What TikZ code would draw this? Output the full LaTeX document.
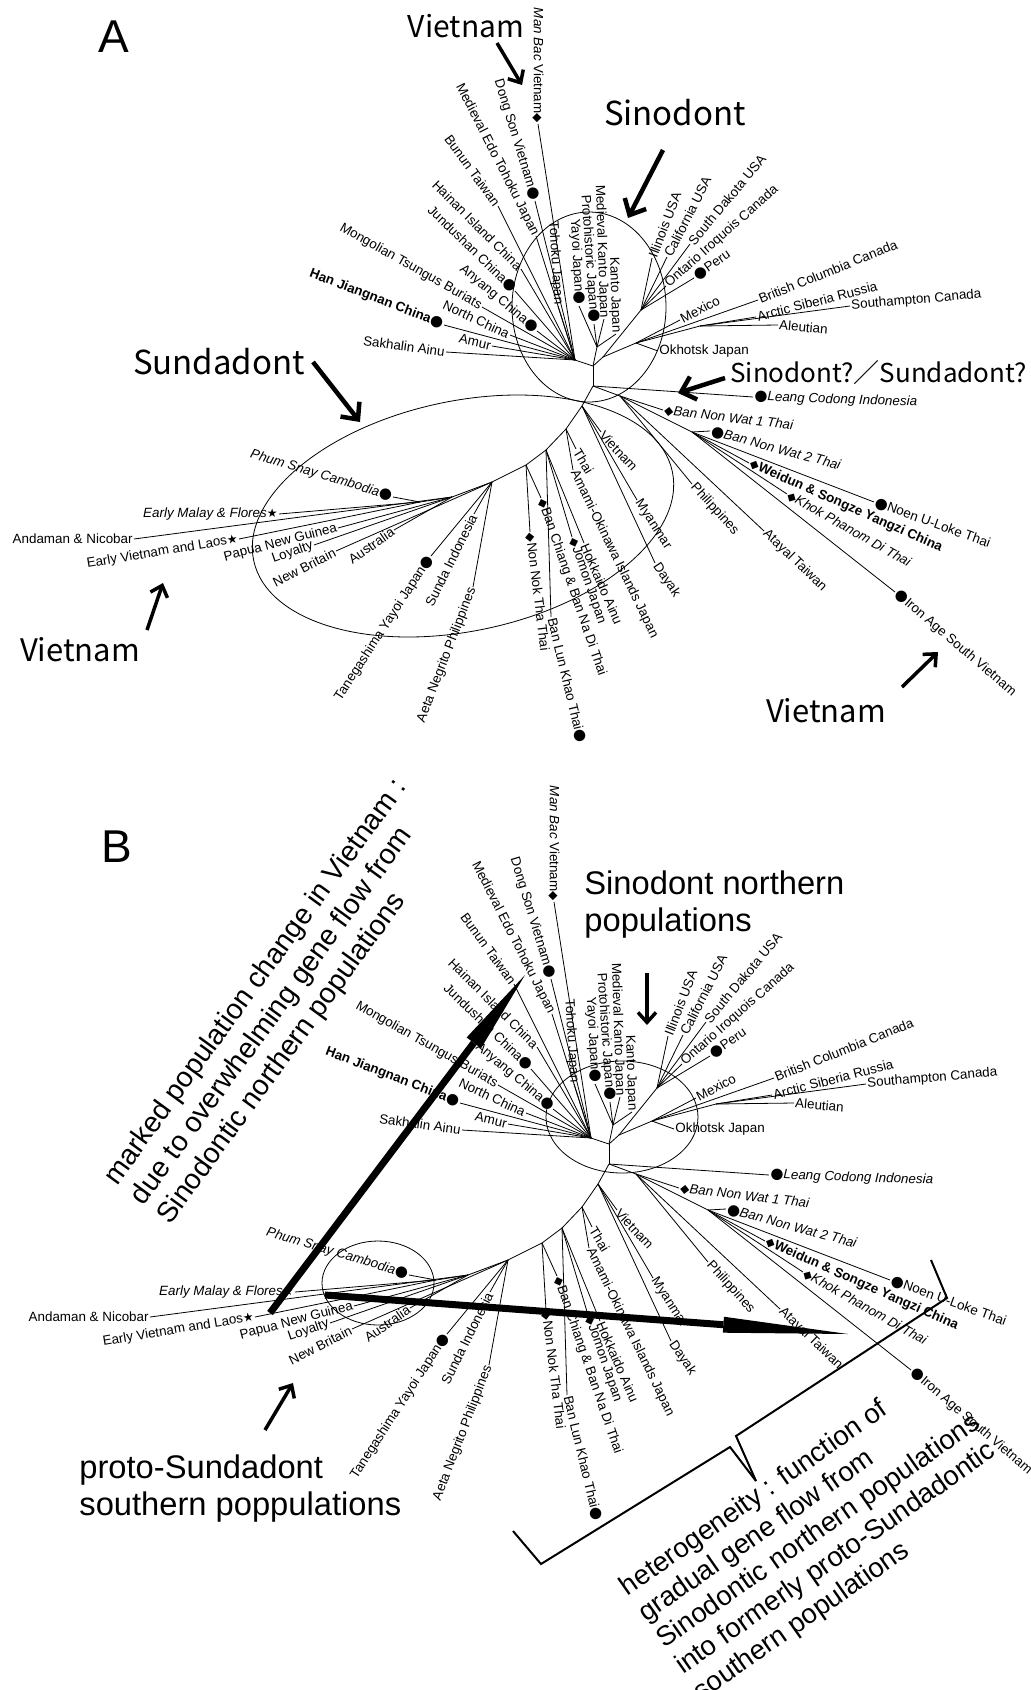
\documentclass[tikz,border=0pt]{standalone}
\usepackage{fontspec}
\setmainfont{Liberation Sans}
\newfontfamily\symfont{DejaVu Sans}
\newfontfamily\gothic{Noto Sans CJK JP}
\usetikzlibrary{arrows.meta}

% tip markers
\newcommand{\mkc}{{\symfont\fontsize{15}{15}\selectfont ●}}
\newcommand{\mkd}{{\symfont\fontsize{12}{12}\selectfont ◆}}
\newcommand{\mks}{{\symfont\fontsize{12}{12}\selectfont ★}}

% the tree, drawn once for each panel
\newcommand{\phylotree}{%
  \coordinate (r) at (593,386);
  \coordinate (n1) at (593,366);
  \coordinate (nl) at (575,360);
  \coordinate (nj) at (597,347);
  \coordinate (nam) at (603,357);
  \coordinate (na) at (641,310);
  \coordinate (nb) at (636,343);
  \coordinate (nc) at (700,326);
  \coordinate (t1) at (620,396);
  \coordinate (t2) at (692,432);
  \coordinate (v) at (582,406);
  \coordinate (p2) at (566,429);
  \coordinate (p3) at (546,450);
  \coordinate (p4) at (526,465);
  \coordinate (sh) at (492,482);
  \coordinate (w) at (452,497);
  \coordinate (w2) at (420,502);
  % northern tips
  \node[tip,anchor=east,rotate=-90] (manbac) at (538,124) {\textit{Man Bac} Vietnam\mkd};
  \node[tip,anchor=east,rotate=-73] (dongson) at (535,201) {Dong Son Vietnam\mkc};
  \node[tip,anchor=east,rotate=-63] (mededo) at (536,236) {Medieval Edo Tohoku Japan};
  \node[tip,anchor=east,rotate=-54] (bunun) at (498,206) {Bunun Taiwan};
  \node[tip,anchor=east,rotate=-45] (hainan) at (521,269) {Hainan Island China};
  \node[tip,anchor=east,rotate=-44] (jundu) at (515,291) {Jundushan China\mkc};
  \node[tip,anchor=east,rotate=-29.5] (mongol) at (482,307) {Mongolian Tsungus Buriats};
  \node[tip,anchor=east,rotate=-40] (anyang) at (537,331) {Anyang China\mkc};
  \node[tip,anchor=east,rotate=-21] (han) at (444,325) {\textbf{Han Jiangnan China}\mkc};
  \node[tip,anchor=east,rotate=-25] (north) at (510,335) {North China};
  \node[tip,anchor=east,rotate=-13] (amur) at (492,346) {Amur};
  \node[tip,anchor=east,rotate=-8] (sakh) at (446,352) {Sakhalin Ainu};
  \node[tip,anchor=east,rotate=-86.5] (tohoku) at (558,306) {Tohoku Japan};
  \node[tip,anchor=east,rotate=-87] (yayoi) at (579,306) {Yayoi Japan\mkc};
  \node[tip,anchor=east,rotate=-86] (proto) at (594,324) {Protohistoric Japan\mkc};
  \node[tip,anchor=east,rotate=-88] (medkanto) at (604,319) {Medieval Kanto Japan};
  \node[tip,anchor=east,rotate=-88] (kanto) at (616,334) {Kanto Japan};
  \node[tip,anchor=west,rotate=69] (illinois) at (652,258) {Illinois USA};
  \node[tip,anchor=west,rotate=63] (calif) at (667,257) {California USA};
  \node[tip,anchor=west,rotate=50] (sdakota) at (690,244) {South Dakota USA};
  \node[tip,anchor=west,rotate=41.5] (ontario) at (666,286) {Ontario Iroquois Canada};
  \node[tip,anchor=west,rotate=35] (peru) at (694,278) {\mkc Peru};
  \node[tip,anchor=west,rotate=28] (mexico) at (680,320) {Mexico};
  \node[tip,anchor=west,rotate=22] (bcol) at (758,300) {British Columbia Canada};
  \node[tip,anchor=west,rotate=14.5] (arctic) at (756,317) {Arctic Siberia Russia};
  \node[tip,anchor=west,rotate=5] (southam) at (850,306) {Southampton Canada};
  \node[tip,anchor=west,rotate=-5] (aleut) at (778,325) {Aleutian};
  \node[tip,anchor=west] (okhotsk) at (658,351) {Okhotsk Japan};
  % southern tips
  \node[tip,anchor=west,rotate=-2] (leang) at (753,397) {\mkc\textit{Leang Codong Indonesia}};
  \node[tip,anchor=west,rotate=-7] (bnw1) at (663,410) {\mkd\textit{Ban Non Wat 1 Thai}};
  \node[tip,anchor=west,rotate=-15] (bnw2) at (710,431) {\mkc\textit{Ban Non Wat 2 Thai}};
  \node[tip,anchor=west,rotate=-24] (weidun) at (749,463) {\mkd\textbf{Weidun \& Songze Yangzi China}};
  \node[tip,anchor=west,rotate=-20] (noen) at (874,502) {\mkc Noen U-Loke Thai};
  \node[tip,anchor=west,rotate=-29.5] (khok) at (787,494) {\mkd\textit{Khok Phanom Di Thai}};
  \node[tip,anchor=west,rotate=-40.5] (iron) at (895,592) {\mkc Iron Age South Vietnam};
  \node[tip,anchor=west,rotate=-48] (phil) at (692,484) {Philippines};
  \node[tip,anchor=west,rotate=-44] (atayal) at (764,531) {Atayal Taiwan};
  \node[tip,anchor=west,rotate=-57] (myanmar) at (637,500) {Myanmar};
  \node[tip,anchor=west,rotate=-56] (dayak) at (655,563) {Dayak};
  \node[tip,anchor=west,rotate=-47] (vietsm) at (601,432) {Vietnam};
  \node[tip,anchor=west,rotate=-59] (thai) at (576,449) {Thai};
  \node[tip,anchor=west,rotate=-64] (amami) at (573,470) {Amami-Okinawa Islands Japan};
  \node[tip,anchor=west,rotate=-66.5] (hokk) at (584,543) {Hokkaido Ainu};
  \node[tip,anchor=west,rotate=-71] (jomon) at (572,537) {\mkd Jomon Japan};
  \node[tip,anchor=west,rotate=-71] (banchiang) at (541,498) {\mkd Ban Chiang \& Ban Na Di Thai};
  \node[tip,anchor=west,rotate=-83] (nonnok) at (530,532) {\mkd Non Nok Tha Thai};
  \node[tip,anchor=west,rotate=-76.5] (banlun) at (551,617) {Ban Lun Khao Thai\mkc};
  \node[tip,anchor=east,rotate=-16.7] (phum) at (393,497) {\textit{Phum Snay Cambodia}\mkc};
  \node[tip,anchor=east] (emalay) at (279,514) {\textit{Early Malay \& Flores}\mks};
  \node[tip,anchor=east] (andaman) at (134,539) {Andaman \& Nicobar};
  \node[tip,anchor=east,rotate=9.5] (evietnam) at (239,539) {Early Vietnam and Laos\mks};
  \node[tip,anchor=east,rotate=14.6] (png) at (338,528) {Papua New Guinea};
  \node[tip,anchor=east,rotate=19] (loyalty) at (314,545) {Loyalty};
  \node[tip,anchor=east,rotate=27] (newbrit) at (336,551) {New Britain};
  \node[tip,anchor=east,rotate=34.5] (austr) at (394,530) {Australia};
  \node[tip,anchor=east,rotate=57] (tane) at (431,556) {Tanegashima Yayoi Japan\mkc};
  \node[tip,anchor=east,rotate=63.7] (sunda) at (474,514) {Sunda Indonesia};
  \node[tip,anchor=east,rotate=69] (aeta) at (473,587) {Aeta Negrito Philippines};
  % branches
  \foreach \from/\to in {r/n1,n1/nl,n1/nj,n1/nam,nam/na,nam/nb,nb/nc,r/t1,t1/t2,
    r/v,v/p2,p2/p3,p3/p4,p4/sh,sh/w,w/w2}
    \draw (\from) -- (\to);
  \foreach \from/\to in {nl/manbac,nl/dongson,nl/mededo,nl/bunun,nl/hainan,nl/jundu,
    nl/mongol,nl/anyang,nl/han,nl/north,nl/amur,nl/sakh,nl/tohoku,nj/yayoi,nj/proto,
    nj/medkanto,nj/kanto,w2/phum,w2/emalay,w/andaman,w2/evietnam,w/png,w/loyalty,
    sh/newbrit,w/austr,sh/tane,sh/sunda,sh/aeta}
    \draw (\from) -- (\to.east);
  \foreach \from/\to in {na/illinois,na/calif,na/sdakota,na/ontario,na/peru,nb/mexico,
    nb/bcol,nc/arctic,nc/southam,nc/aleut,nb/okhotsk,r/leang,t1/bnw1,t2/bnw2,t2/weidun,
    t2/noen,t2/khok,t2/iron,t1/phil,t1/atayal,v/myanmar,v/dayak,v/vietsm,p2/thai,
    p2/amami,p3/hokk,p3/jomon,p4/banchiang,p4/nonnok,p3/banlun}
    \draw (\from) -- (\to.west);
}

\begin{document}
\begin{tikzpicture}
  [x=1pt,y=-1pt,line width=0.8pt,
   tip/.style={font=\fontsize{13.4}{14}\selectfont,inner sep=1pt},
   panel/.style={font=\fontsize{46}{46}\selectfont},
   jptag/.style={font=\gothic\fontsize{#1}{#1}\selectfont,inner sep=0pt},
   entag/.style={font=\fontsize{32.7}{37.5}\selectfont,align=left,inner sep=0pt},
   note/.style 2 args={font=\fontsize{#1}{#2}\selectfont,align=left,inner sep=0pt},
   callout/.style={line width=4.5pt,-{Straight Barb[length=13pt,width=24pt]}},
   smallcall/.style={line width=3.5pt,-{Straight Barb[length=10pt,width=18pt]}},
   flowup/.style={line width=7pt,-{Triangle[length=85pt,width=18pt,line width=0pt]}},
   flowside/.style={line width=7pt,-{Triangle[length=125pt,width=16pt,line width=0pt]}}]
  \fill[white] (0,0) rectangle (1031,1690);
  \useasboundingbox (0,0) rectangle (1031,1690);

  %%% panel A
  \node[panel] (pa) at (114,37) {A};
  \phylotree
  \draw (589,307) ellipse [x radius=77, y radius=95];
  \draw[rotate around={12:(463,516)}] (463,516) ellipse [x radius=214, y radius=115];

  \node[jptag=30] (vtop) at (466,26) {Vietnam};
  \node[jptag=33] (sino) at (675,113) {Sinodont};
  \node[jptag=33] (sunda) at (219,362) {Sundadont};
  \node[jptag=26,anchor=west] (sinosun) at (730,373) {Sinodont?／Sundadont?};
  \node[jptag=31] (vleft) at (80,650) {Vietnam};
  \node[jptag=31] (vright) at (826,711) {Vietnam};
  \coordinate (a1s) at (497,43);   \coordinate (a1e) at (522,85);
  \coordinate (a2s) at (663,150);  \coordinate (a2e) at (628,218);
  \coordinate (a3s) at (313,362);  \coordinate (a3e) at (360,422);
  \coordinate (a4s) at (725,378);  \coordinate (a4e) at (678,393);
  \coordinate (a5s) at (147,630);  \coordinate (a5e) at (163,583);
  \coordinate (a6s) at (902,687);  \coordinate (a6e) at (938,652);
  \draw[smallcall] (a1s) -- (a1e);
  \draw[callout] (a2s) -- (a2e);
  \draw[callout] (a3s) -- (a3e);
  \draw[callout] (a4s) -- (a4e);
  \draw[smallcall] (a5s) -- (a5e);
  \draw[smallcall] (a6s) -- (a6e);

  %%% panel B
  \node[panel] (pb) at (117,847) {B};
  \begin{scope}[shift={(16,778)},name prefix=b-]
    \phylotree
  \end{scope}
  \draw (622,1117) ellipse [x radius=76, y radius=56];
  \draw (378,1283) ellipse [x radius=56, y radius=42];

  \node[entag,anchor=north west] (sinonorth) at (584,870) {Sinodont northern\\populations};
  \node[entag,anchor=north west] (protosouth) at (79,1454) {proto-Sundadont\\southern poppulations};
  \coordinate (b1s) at (647,973);  \coordinate (b1e) at (647,1025);
  \coordinate (b2s) at (265,1430); \coordinate (b2e) at (293,1383);
  \draw[smallcall] (b1s) -- (b1e);
  \draw[smallcall] (b2s) -- (b2e);

  % gene flow arrows
  \coordinate (f1s) at (270,1313); \coordinate (f1e) at (525,975);
  \coordinate (f2s) at (325,1295); \coordinate (f2e) at (848,1334);
  \draw[flowup] (f1s) -- (f1e);
  \draw[flowside] (f2s) -- (f2e);

  \node[note={28.5}{33},rotate=54] (marked) at (283,1002)
    {marked population change in Vietnam :\\due to overwhelming gene flow from\\Sinodontic northern populations};
  \node[note={27.5}{32},rotate=35] (hetero) at (819,1532)
    {heterogeneity : function of\\gradual gene flow from\\Sinodontic northern populations\\into formerly proto-Sundadontic\\southern populations};

  % bracket
  \coordinate (k1) at (513,1531); \coordinate (k2) at (541,1564);
  \coordinate (k3) at (730,1447); \coordinate (k4) at (756,1481);
  \coordinate (k5) at (736,1436); \coordinate (k6) at (947,1298);
  \coordinate (k7) at (931,1260);
  \draw[line width=2pt] (k1) -- (k2) -- (k3) -- (k4);
  \draw[line width=2pt] (k4) -- (k5) -- (k6) -- (k7);
\end{tikzpicture}
\end{document}
